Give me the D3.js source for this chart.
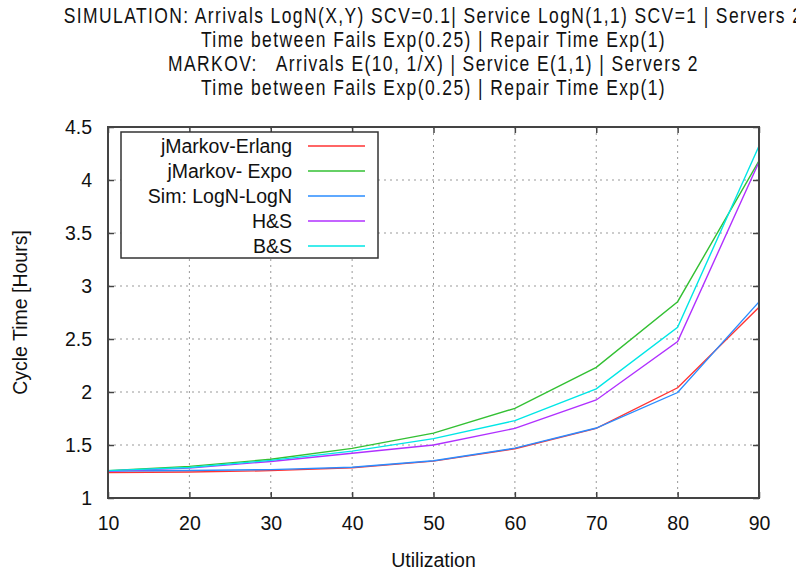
<!DOCTYPE html>
<html><head><meta charset="utf-8">
<script src="https://cdn.jsdelivr.net/npm/d3@7"></script>
<style>
html,body{margin:0;padding:0;background:#fff;}
text{font-family:"Liberation Sans",Arial,sans-serif;fill:#111;}
</style></head>
<body><svg id="c" width="796" height="573"></svg>
<script>
const utilization = [10,20,30,40,50,60,70,80,90];
const erlang  = [1.240,1.245,1.258,1.286,1.348,1.465,1.657,2.040,2.800];
const expo    = [1.258,1.298,1.365,1.468,1.612,1.846,2.233,2.852,4.180];
const simLogN = [1.255,1.260,1.268,1.290,1.352,1.470,1.660,1.995,2.850];
const hs      = [1.255,1.282,1.345,1.422,1.500,1.657,1.925,2.475,4.170];
const bs      = [1.258,1.288,1.355,1.442,1.560,1.730,2.030,2.610,4.320];
const seriesNames = ["jMarkov-Erlang","jMarkov- Expo","Sim: LogN-LogN","H&S","B&S"];
const seriesColors = ["#ff3333","#33c033","#2a8cff","#b030ff","#00e6e6"];
const seriesValues = [erlang, expo, simLogN, hs, bs];
const xTicks = [10,20,30,40,50,60,70,80,90];
const yTicks = [1,1.5,2,2.5,3,3.5,4,4.5];
const titleLines = [
 "SIMULATION: Arrivals LogN(X,Y) SCV=0.1| Service LogN(1,1) SCV=1 | Servers 2",
 "Time between Fails Exp(0.25) | Repair Time Exp(1)",
 "MARKOV:   Arrivals E(10, 1/X) | Service E(1,1) | Servers 2",
 "Time between Fails Exp(0.25) | Repair Time Exp(1)"
];

const svg = d3.select("#c");
const L=108, R=759, T=127, B=498;
const x = d3.scaleLinear().domain([10,90]).range([L,R]);
const y = d3.scaleLinear().domain([1,4.5]).range([B,T]);

const cx=433.5;
titleLines.forEach((t,i)=>{
  svg.append("text").attr("transform",`translate(${cx},${23+i*24}) scale(0.86,1.05)`)
    .attr("text-anchor","middle")
    .style("font-size","20.3px").style("letter-spacing","1.65px").style("white-space","pre").text(t);
});

const g = svg.append("g");
g.selectAll(".gy").data(yTicks.filter(v=>v>1&&v<4.5)).enter().append("line")
  .attr("x1",L).attr("x2",R).attr("y1",d=>y(d)).attr("y2",d=>y(d))
  .attr("stroke","#999").attr("stroke-width",1).attr("stroke-dasharray","2,4");
g.selectAll(".gx").data(xTicks.filter(v=>v>10&&v<90)).enter().append("line")
  .attr("y1",T).attr("y2",B).attr("x1",d=>x(d)).attr("x2",d=>x(d))
  .attr("stroke","#999").attr("stroke-width",1).attr("stroke-dasharray","2,4");

const line = d3.line().x((d,i)=>x(utilization[i])).y(d=>y(d));
seriesValues.forEach((vals,k)=>{
  svg.append("path").datum(vals).attr("d",line).attr("fill","none")
    .attr("stroke",seriesColors[k]).attr("stroke-width",1.4);
});

const axCol="#444";
const axB = svg.append("g").attr("transform",`translate(0,${B})`)
  .call(d3.axisBottom(x).tickValues(xTicks).tickSize(-6).tickPadding(18).tickSizeOuter(0));
const axT = svg.append("g").attr("transform",`translate(0,${T})`)
  .call(d3.axisTop(x).tickValues(xTicks).tickSize(-6).tickFormat("").tickSizeOuter(0));
const axL = svg.append("g").attr("transform",`translate(${L},0)`)
  .call(d3.axisLeft(y).tickValues(yTicks).tickSize(-6).tickPadding(16).tickSizeOuter(0).tickFormat(d3.format("")));
const axR = svg.append("g").attr("transform",`translate(${R},0)`)
  .call(d3.axisRight(y).tickValues(yTicks).tickSize(-6).tickFormat("").tickSizeOuter(0));
[axB,axT,axL,axR].forEach(a=>{
  a.select(".domain").remove();
  a.selectAll(".tick line").attr("stroke",axCol).attr("stroke-width",1.5);
  a.selectAll("text").style("font-size","19.5px").style("font-family","'Liberation Sans',Arial,sans-serif").attr("fill","#111");
});
svg.append("rect").attr("x",L).attr("y",T).attr("width",R-L).attr("height",B-T)
  .attr("fill","none").attr("stroke",axCol).attr("stroke-width",2);

svg.append("text").attr("x",cx).attr("y",567).attr("text-anchor","middle")
  .style("font-size","19.5px").text("Utilization");
svg.append("text").attr("transform",`translate(27,${(T+B)/2}) rotate(-90)`)
  .attr("text-anchor","middle").style("font-size","19.5px").text("Cycle Time [Hours]");

const lg = svg.append("g");
lg.append("rect").attr("x",121).attr("y",132).attr("width",257).attr("height",126)
  .attr("fill","#fff").attr("stroke","#333").attr("stroke-width",1.5);
seriesNames.forEach((n,i)=>{
  const yy = 146 + i*25;
  lg.append("text").attr("x",292).attr("y",yy+7).attr("text-anchor","end")
    .style("font-size","19.5px").text(n);
  lg.append("line").attr("x1",308).attr("x2",365).attr("y1",yy).attr("y2",yy)
    .attr("stroke",seriesColors[i]).attr("stroke-width",1.5);
});
</script></body></html>
